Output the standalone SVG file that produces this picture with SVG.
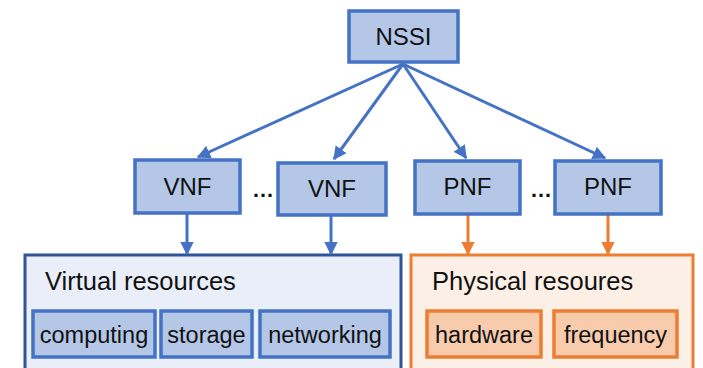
<svg xmlns="http://www.w3.org/2000/svg" width="703" height="368" viewBox="0 0 703 368">
<style>
.n rect{fill:#B4C7E7;stroke:#4472C4;stroke-width:3.5}
.o rect{fill:#F8CBAD;stroke:#ED7D31;stroke-width:3.5}
text{font-family:"Liberation Sans",Arial,sans-serif;fill:#111;}
.t{font-size:24px;text-anchor:middle}
.s{font-size:23.5px;text-anchor:middle}
.h{font-size:25.5px}
.b{stroke:#4472C4;stroke-width:3;fill:none}
.r{stroke:#ED7D31;stroke-width:3;fill:none}
</style>
<defs>
<marker id="ab" viewBox="0 0 10 10" refX="9" refY="5" markerWidth="4.5" markerHeight="4.5" orient="auto" markerUnits="strokeWidth"><path d="M0,0L10,5L0,10z" fill="#4472C4"/></marker>
<marker id="ao" viewBox="0 0 10 10" refX="9" refY="5" markerWidth="4.5" markerHeight="4.5" orient="auto" markerUnits="strokeWidth"><path d="M0,0L10,5L0,10z" fill="#ED7D31"/></marker>
</defs>
<g id="virtual-resources">
<rect x="25" y="255" width="376" height="120" fill="#E9EEF8" stroke="#2F5597" stroke-width="3"/>
<text class="h" x="45" y="290">Virtual resources</text>
</g>
<g id="physical-resources">
<rect x="411" y="255" width="282" height="120" fill="#FBEFE6" stroke="#ED7D31" stroke-width="3"/>
<text class="h" x="432" y="290">Physical resoures</text>
</g>
<g id="connectors">
<line class="b" x1="403" y1="64" x2="198" y2="157" marker-end="url(#ab)"/>
<line class="b" x1="403" y1="64" x2="334" y2="159" marker-end="url(#ab)"/>
<line class="b" x1="403" y1="64" x2="466" y2="158" marker-end="url(#ab)"/>
<line class="b" x1="403" y1="64" x2="605" y2="158" marker-end="url(#ab)"/>
<line class="b" x1="187" y1="214" x2="187" y2="254" marker-end="url(#ab)"/>
<line class="b" x1="331" y1="216" x2="331" y2="254" marker-end="url(#ab)"/>
<line class="r" x1="468" y1="215" x2="468" y2="254" marker-end="url(#ao)"/>
<line class="r" x1="608" y1="215" x2="608" y2="254" marker-end="url(#ao)"/>
</g>
<g id="nssi" class="n"><rect x="349" y="11" width="109" height="51"/><text class="t" x="403.5" y="45">NSSI</text></g>
<g id="vnf1" class="n"><rect x="135" y="160" width="105" height="53"/><text class="t" x="187.5" y="195">VNF</text></g>
<g id="vnf2" class="n"><rect x="278" y="163" width="108" height="52"/><text class="t" x="332" y="197">VNF</text></g>
<g id="pnf1" class="n"><rect x="415" y="161" width="105" height="53"/><text class="t" x="467.5" y="195">PNF</text></g>
<g id="pnf2" class="n"><rect x="555" y="161" width="106" height="53"/><text class="t" x="608" y="195">PNF</text></g>
<text x="263" y="197" font-size="22" text-anchor="middle" font-weight="bold">…</text>
<text x="541" y="197" font-size="22" text-anchor="middle" font-weight="bold">…</text>
<g id="computing" class="n"><rect x="33" y="311" width="122" height="46"/><text class="s" x="94" y="343">computing</text></g>
<g id="storage" class="n"><rect x="161" y="311" width="91" height="46"/><text class="s" x="206.5" y="343">storage</text></g>
<g id="networking" class="n"><rect x="260" y="311" width="130" height="46"/><text class="s" x="325" y="343">networking</text></g>
<g id="hardware" class="o"><rect x="427" y="311" width="114" height="46"/><text class="s" x="484" y="343">hardware</text></g>
<g id="frequency" class="o"><rect x="554" y="311" width="123" height="46"/><text class="s" x="615.5" y="343">frequency</text></g>
</svg>
